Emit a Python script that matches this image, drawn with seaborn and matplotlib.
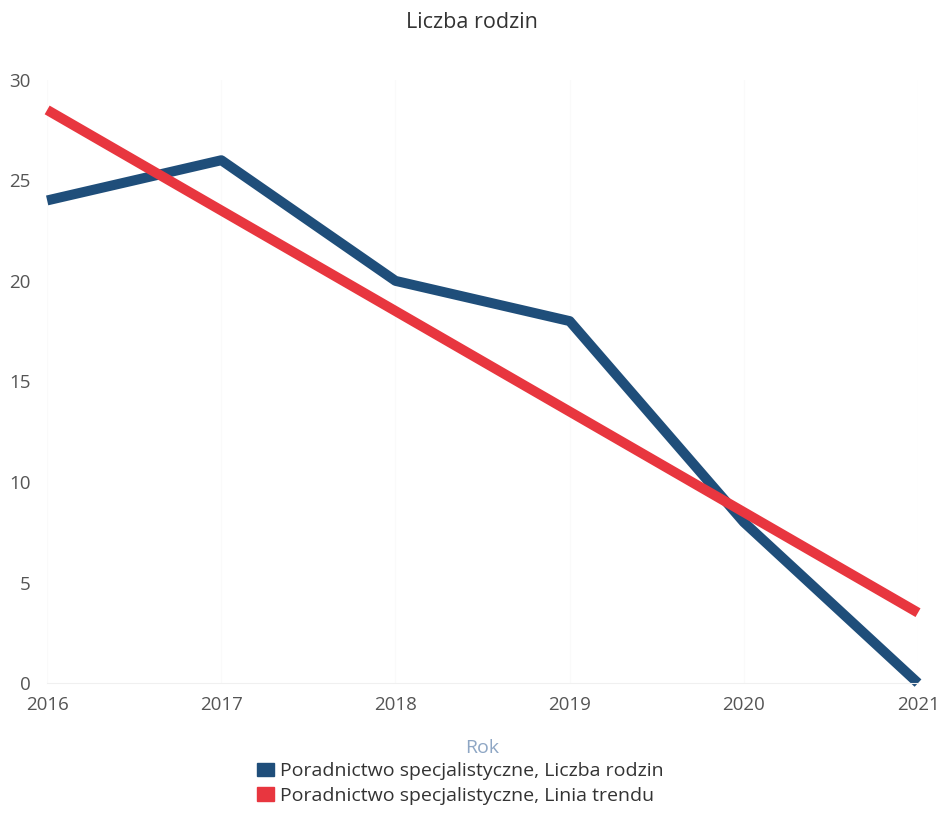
import pandas as pd
import matplotlib.pyplot as plt
import seaborn as sns
from matplotlib.patches import Patch

# Data
years = [2016, 2017, 2018, 2019, 2020, 2021]
liczba_rodzin = [24, 26, 20, 18, 8, 0]
linia_trendu = [28.5, 23.5, 18.5, 13.5, 8.5, 3.5]
series_names = ["Poradnictwo specjalistyczne, Liczba rodzin",
                "Poradnictwo specjalistyczne, Linia trendu"]
colors = ["#1f4e7a", "#e8363f"]

df = pd.DataFrame({
    "Rok": years * 2,
    "value": liczba_rodzin + linia_trendu,
    "series": [series_names[0]] * len(years) + [series_names[1]] * len(years),
})

sns.set_style("white")
plt.rcParams["font.family"] = ["Open Sans", "DejaVu Sans"]

fig = plt.figure(figsize=(9.43, 8.31), dpi=100)
ax = fig.add_axes([0.05, 0.178, 0.9235, 0.726])

sns.lineplot(data=df, x="Rok", y="value", hue="series", palette=colors,
             linewidth=7.2, ax=ax, legend=False, sort=False)
for line in ax.lines:
    line.set_clip_on(False)
    line.set_solid_capstyle("butt")

ax.set_xlim(2016, 2021)
ax.set_ylim(0, 30)
ax.set_xticks(years)
ax.set_yticks([0, 5, 10, 15, 20, 25, 30])
ax.tick_params(axis="both", length=0, labelsize=13.5, labelcolor="#555555")
ax.tick_params(axis="x", pad=9)
ax.tick_params(axis="y", pad=12)
ax.grid(axis="x", color="#fafafa", linewidth=1)
for s in ["top", "right", "left"]:
    ax.spines[s].set_visible(False)
ax.spines["bottom"].set_color("#f0f0f0")

ax.set_xlabel("Rok", fontsize=14, color="#8ea6c4", labelpad=18)
ax.set_ylabel("")
fig.suptitle("Liczba rodzin", fontsize=15.5, color="#333333", y=0.985)

handles = [Patch(color=c) for c in colors]
fig.legend(handles, series_names, loc="center", bbox_to_anchor=(0.488, 0.057),
           ncol=1, frameon=False, fontsize=14, handlelength=0.9, handleheight=0.7,
           handletextpad=0.3, labelspacing=0.35, labelcolor="#333333")

fig.savefig("out.png", dpi=100)
